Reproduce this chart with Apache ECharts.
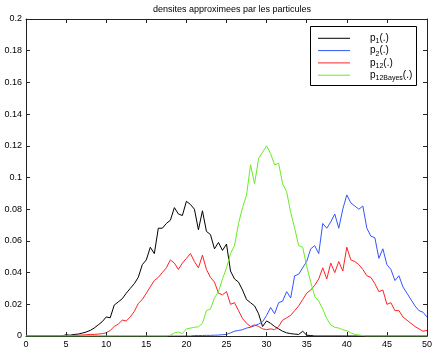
<!DOCTYPE html>
<html>
<head>
<meta charset="utf-8">
<script src="https://cdn.jsdelivr.net/npm/echarts@6/dist/echarts.min.js"></script>
<style>
  html, body { margin: 0; padding: 0; background: #fff; }
  #chart { width: 436px; height: 352px; }
</style>
</head>
<body>
<div id="chart"></div>
<script>
// sample grid: x = 0, 0.5, ..., 50
const xStep = 0.5;

// densities, one value per grid step
const p1 = [
  0, 0, 0, 0, 0, 0, 0, 0, 0, 0,
  0.0008, 0.0005, 0.001, 0.0012, 0.0018, 0.0025, 0.0035, 0.005, 0.007, 0.009,
  0.012, 0.0115, 0.0195, 0.0215, 0.0235, 0.027, 0.030, 0.033, 0.037, 0.045,
  0.048, 0.056, 0.052, 0.068, 0.068, 0.071, 0.073, 0.081, 0.077, 0.076,
  0.085, 0.083, 0.080, 0.067, 0.079, 0.066, 0.064, 0.055, 0.059, 0.054,
  0.058, 0.041, 0.036, 0.034, 0.029, 0.023, 0.021, 0.019, 0.014, 0.006,
  0.0095, 0.008, 0.006, 0.0045, 0.003, 0.002, 0.0015, 0.0012, 0.001, 0.003,
  0.0005, 0.0003, 0, 0, 0, 0, 0, 0, 0, 0,
  0, 0, 0, 0, 0, 0, 0, 0, 0, 0,
  0, 0, 0, 0, 0, 0, 0, 0, 0, 0,
  0
];

const p2 = [
  0, 0, 0, 0, 0, 0, 0, 0, 0, 0,
  0, 0, 0, 0, 0, 0, 0, 0, 0, 0,
  0, 0, 0, 0, 0, 0, 0, 0, 0, 0,
  0, 0, 0, 0, 0, 0, 0, 0, 0, 0,
  0, 0, 0.0003, 0.0003, 0.0003, 0.0004, 0.0004, 0.0005, 0.0006, 0.0008,
  0.001, 0.002, 0.003, 0.0035, 0.004, 0.005, 0.0055, 0.0065, 0.0075, 0.009,
  0.013, 0.018, 0.014, 0.021, 0.022, 0.028, 0.024, 0.038, 0.039, 0.043,
  0.047, 0.055, 0.057, 0.052, 0.071, 0.068, 0.072, 0.077, 0.068, 0.080,
  0.089, 0.084, 0.082, 0.080, 0.082, 0.068, 0.063, 0.062, 0.049, 0.055,
  0.045, 0.042, 0.035, 0.038, 0.031, 0.027, 0.023, 0.019, 0.016, 0.015,
  0.012
];

const p12 = [
  0, 0, 0, 0, 0, 0, 0, 0, 0, 0,
  0, 0, 0.0003, 0.0005, 0.0006, 0.0008, 0.001, 0.001, 0.0012, 0.0015,
  0.002, 0.0035, 0.006, 0.0075, 0.010, 0.0095, 0.012, 0.0155, 0.0205, 0.023,
  0.027, 0.031, 0.035, 0.037, 0.040, 0.043, 0.048, 0.046, 0.042, 0.046,
  0.049, 0.052, 0.047, 0.043, 0.051, 0.042, 0.037, 0.034, 0.027, 0.026,
  0.028, 0.020, 0.021, 0.016, 0.011, 0.008, 0.006, 0.007, 0.006, 0.0045,
  0.004, 0.0045, 0.004, 0.006, 0.010, 0.0115, 0.013, 0.016, 0.019, 0.023,
  0.027, 0.029, 0.032, 0.036, 0.043, 0.036, 0.046, 0.040, 0.047, 0.041,
  0.056, 0.048, 0.047, 0.045, 0.042, 0.038, 0.037, 0.033, 0.028, 0.029,
  0.020, 0.021, 0.016, 0.016, 0.012, 0.010, 0.008, 0.006, 0.0045, 0.003,
  0.0035
];

const p12Bayes = [
  0, 0, 0, 0, 0, 0, 0, 0, 0, 0,
  0, 0, 0, 0, 0, 0, 0, 0, 0, 0,
  0, 0, 0, 0, 0, 0, 0, 0, 0, 0,
  0, 0, 0, 0, 0, 0, 0.0005, 0.002, 0.0025, 0.0015,
  0.0045, 0.005, 0.0055, 0.0058, 0.008, 0.016, 0.017, 0.024, 0.028, 0.036,
  0.043, 0.052, 0.057, 0.071, 0.081, 0.089, 0.108, 0.096, 0.112, 0.116,
  0.120, 0.115, 0.108, 0.109, 0.096, 0.091, 0.078, 0.068, 0.057, 0.056,
  0.044, 0.034, 0.025, 0.022, 0.017, 0.011, 0.007, 0.0055, 0.005, 0.004,
  0.0034, 0.002, 0.001, 0.0006, 0.0003, 0, 0, 0, 0, 0,
  0, 0, 0, 0, 0, 0, 0, 0, 0, 0,
  0
];

const seriesNames = ["p1", "p2", "p12", "p12Bayes"];
// subscripts shown in the legend
const subscripts = { p1: "1", p2: "2", p12: "12", p12Bayes: "12Bayes" };
const colors = ["#000000", "#3355ff", "#ff2222", "#66ee22"];
const titleText = "densites approximees par les particules";

const FONT = "Liberation Sans, Arial, Helvetica, sans-serif";

const toPairs = (ys) => ys.map((y, i) => [i * xStep, y]);

const chart = echarts.init(document.getElementById("chart"), null, {
  renderer: "canvas",
});

// MATLAB style box: every side has its own axis, ticks point inwards
const makeAxis = (position, max, interval, labels) => ({
  type: "value",
  position,
  min: 0,
  max,
  interval,
  z: 5,
  axisLine: { show: true, onZero: false, lineStyle: { color: "#222", width: 1 } },
  axisTick: { show: true, inside: true, length: 4, lineStyle: { color: "#222" } },
  splitLine: { show: false },
  axisLabel: labels
    ? { show: true, fontSize: 9, color: "#000", margin: 4, fontFamily: FONT }
    : { show: false },
});

chart.setOption({
  animation: false,
  textStyle: { fontFamily: FONT },
  title: {
    text: titleText,
    left: 227,
    top: 0,
    textAlign: "center",
    textStyle: { fontSize: 9, fontWeight: "normal", color: "#000", fontFamily: FONT },
  },
  grid: { left: 26, right: 9, top: 19, bottom: 16, containLabel: false },
  // legend frame, drawn separately so it sits exactly where the reference has it
  graphic: [
    {
      type: "rect",
      z: 3,
      shape: { x: 310.5, y: 26.5, width: 106, height: 59 },
      style: { fill: "#fff", stroke: "#000", lineWidth: 1 },
    },
  ],
  legend: {
    orient: "vertical",
    left: 318,
    top: 33.3,
    padding: 0,
    z: 6,
    icon: "rect",
    itemWidth: 32,
    itemHeight: 1,
    itemGap: 0.8,
    data: seriesNames,
    formatter: (name) => "{p|p}{s|" + subscripts[name] + "}{p|(.)}",
    textStyle: {
      padding: [0, 0, 0, 15],
      rich: {
        p: { fontSize: 10, color: "#000", fontFamily: FONT },
        s: { fontSize: 7, color: "#000", fontFamily: FONT, padding: [6, 0, 0, 0] },
      },
    },
  },
  xAxis: [makeAxis("bottom", 50, 5, true), makeAxis("top", 50, 5, false)],
  yAxis: [makeAxis("left", 0.2, 0.02, true), makeAxis("right", 0.2, 0.02, false)],
  series: [p1, p2, p12, p12Bayes].map((ys, k) => ({
    name: seriesNames[k],
    type: "line",
    data: toPairs(ys),
    showSymbol: false,
    symbol: "none",
    color: colors[k],
    lineStyle: { color: colors[k], width: 1 },
    z: 2 + k,
  })),
});
</script>
</body>
</html>
